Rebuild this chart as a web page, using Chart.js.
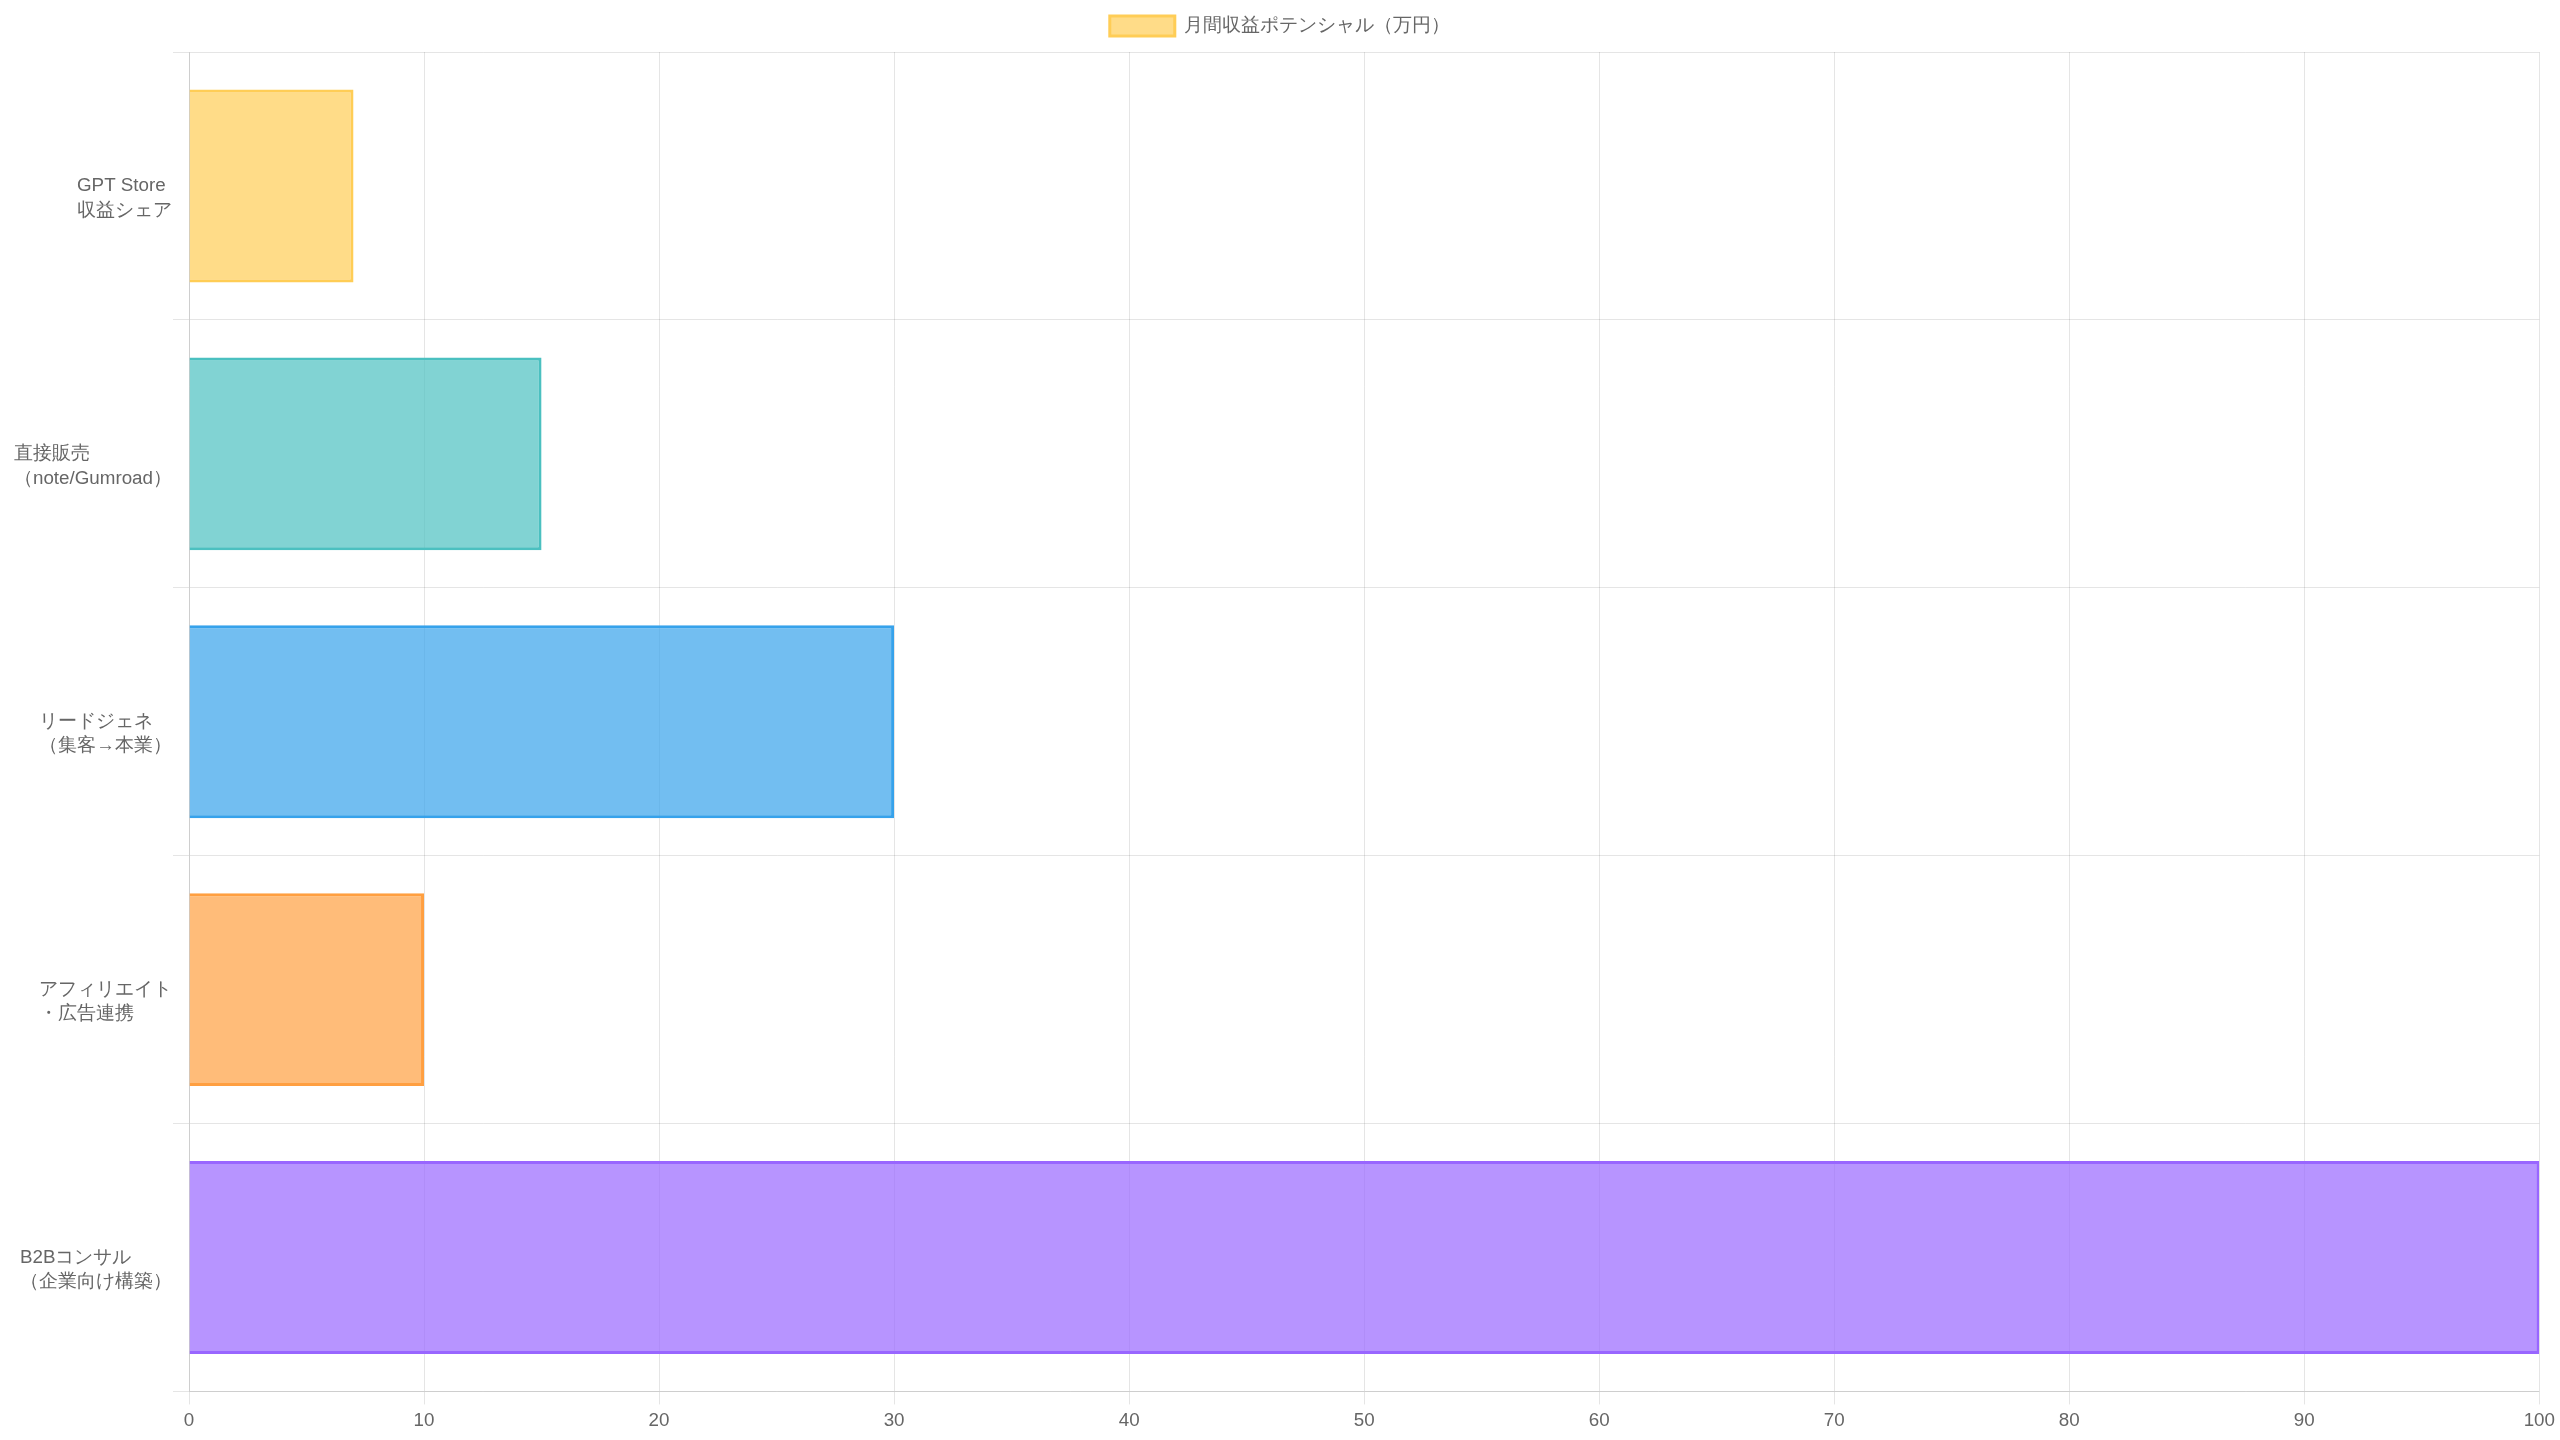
<!DOCTYPE html>
<html lang="ja">
<head>
<meta charset="utf-8">
<title>月間収益ポテンシャル</title>
<script src="https://cdn.jsdelivr.net/npm/chart.js@4/dist/chart.umd.min.js"></script>
<style>
  html, body { margin:0; padding:0; background:#fff; }
  #wrap { width:2560px; height:1440px; position:relative; }
</style>
</head>
<body>
<div id="wrap"><canvas id="revChart"></canvas></div>
<script>
// datos
const categories = [
  ["GPT Store", "収益シェア"],
  ["直接販売", "（note/Gumroad）"],
  ["リードジェネ", "（集客→本業）"],
  ["アフィリエイト", "・広告連携"],
  ["B2Bコンサル", "（企業向け構築）"]
];
const revenue = [7, 15, 30, 10, 100];
const seriesLabel = "月間収益ポテンシャル（万円）";

const fills = [
  'rgba(255, 205, 86, 0.7)',
  'rgba(75, 192, 192, 0.7)',
  'rgba(54, 162, 235, 0.7)',
  'rgba(255, 159, 64, 0.7)',
  'rgba(153, 102, 255, 0.7)'
];
const borders = [
  'rgb(255, 205, 86)',
  'rgb(75, 192, 192)',
  'rgb(54, 162, 235)',
  'rgb(255, 159, 64)',
  'rgb(153, 102, 255)'
];

const FONT_SIZE = 18.8;
const LINE_H = 24.5;

// etiquetas del eje Y: líneas alineadas a la izquierda, bloque pegado al eje
const leftLabels = {
  id: 'leftLabels',
  afterDraw(chart){
    const ys = chart.scales.y, c = chart.ctx;
    c.save();
    c.font = `${FONT_SIZE}px ${Chart.defaults.font.family}`;
    c.fillStyle = '#666';
    c.textAlign = 'left';
    c.textBaseline = 'middle';
    const rightEdge = ys.right - 17;
    ys.getLabels().forEach((lines, i)=>{
      const arr = Array.isArray(lines) ? lines : [lines];
      const w = Math.max(...arr.map(s => c.measureText(s).width));
      const y = ys.getPixelForTick(i);
      arr.forEach((s, k)=> c.fillText(s, rightEdge - w, y + k*LINE_H));
    });
    c.restore();
  }
};

// un poco más de aire bajo la leyenda
const legendGap = {
  id: 'legendGap',
  beforeInit(chart){
    const fit = chart.legend.fit;
    chart.legend.fit = function(){ fit.call(this); this.height += 6; };
  }
};

document.addEventListener('DOMContentLoaded', ()=>{
  Chart.defaults.font.size = FONT_SIZE;
  Chart.defaults.color = '#666';

  const ctx = document.getElementById('revChart').getContext('2d');
  new Chart(ctx, {
    type: 'bar',
    data: {
      labels: categories,
      datasets: [{
        label: seriesLabel,
        data: revenue,
        backgroundColor: fills,
        borderColor: borders,
        borderWidth: 3
      }]
    },
    plugins: [leftLabels, legendGap],
    options: {
      indexAxis: 'y',
      responsive: true,
      maintainAspectRatio: false,
      animation: false,
      layout: { padding: { bottom: 3 } },
      plugins: {
        legend: {
          position: 'top',
          labels: { boxWidth: 65, boxHeight: 20, padding: 16 }
        },
        tooltip: { enabled: false }
      },
      scales: {
        x: {
          beginAtZero: true,
          max: 100,
          ticks: { stepSize: 10, padding: 5 },
          grid: { tickLength: 13 }
        },
        y: {
          ticks: { color: 'rgba(0,0,0,0)' },
          grid: { tickLength: 16 },
          afterFit(scale){ scale.width = 189; }
        }
      }
    }
  });
});
</script>
</body>
</html>
